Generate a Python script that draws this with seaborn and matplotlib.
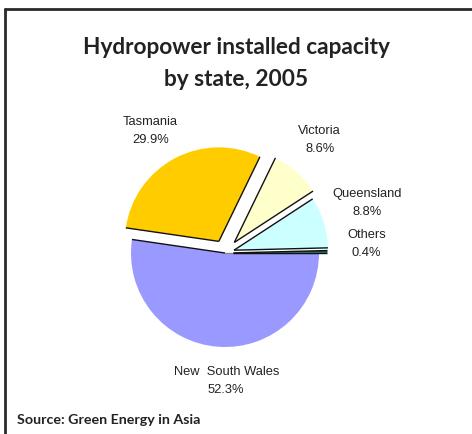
import numpy as np
import matplotlib
matplotlib.use('Agg')
from matplotlib import pyplot as plt
from matplotlib.lines import Line2D
import seaborn as sns

sns.set_theme(style='white')

states = ['New South Wales', 'Tasmania', 'Victoria', 'Queensland', 'Others']
shares = [52.3, 29.9, 8.6, 8.8, 0.4]
colors = ['#9999FF', '#FFCC00', '#FFFFCC', '#CCFFFF', '#006666']
explode = [0.0, 0.14, 0.15, 0.1, 0.09]
# label placement: (angle offset in deg, distance in radii)
label_pos = [(4.7, 1.36), (3.5, 1.52), (1.5, 1.57), (2, 1.6), (3, 1.51)]

W, H = 472, 434
fig = plt.figure(figsize=(W / 100, H / 100), dpi=100)

# pie axes: centre near (225, 253) px, radius 94 px
L = 1.6
S = 2 * L * 94
cx, cy = 225, 253
ax = fig.add_axes([(cx - S / 2) / W, (H - cy - S / 2) / H, S / W, S / H])

wedges, _ = ax.pie(shares, colors=colors, explode=explode, startangle=0,
                   counterclock=False, wedgeprops=dict(linewidth=0))
ax.set_xlim(-L, L)
ax.set_ylim(-L, L)
ax.set_aspect('auto')
ax.axis('off')

# outline only the straight (radial) edges of each slice
for i, w in enumerate(wedges):
    x0, y0 = w.center
    for j, th in enumerate((w.theta1, w.theta2)):
        t = np.deg2rad(th)
        col = '#111111'
        if i == 0 and j == 1:
            col = '#888888'
        ax.plot([x0, x0 + w.r * np.cos(t)], [y0, y0 + w.r * np.sin(t)],
                color=col, lw=1.0, solid_capstyle='butt')

for w, name, val, (off, dist) in zip(wedges, states, shares, label_pos):
    mid = np.deg2rad((w.theta1 + w.theta2) / 2 + off)
    lab = name if name != 'New South Wales' else 'New  South Wales'
    ax.text(dist * np.cos(mid), dist * np.sin(mid), '{}\n{:.1f}%'.format(lab, val),
            ha='center', va='center', fontsize=9.3, color='#222222',
            family='Liberation Sans', linespacing=1.65)

fig.text(0.5, 1 - 63.5 / H, 'Hydropower installed capacity\nby state, 2005',
         ha='center', va='center', fontsize=16.3, fontweight='bold',
         family='Lato', color='#222222', linespacing=1.62)
fig.text(17 / W, 1 - 420 / H, 'Source: Green Energy in Asia', ha='left',
         va='center', fontsize=10.3, fontweight='bold', family='Lato',
         color='#222222')

# frame lines (top and left)
fig.add_artist(Line2D([5 / W, 1], [1 - 8.5 / H, 1 - 8.5 / H], color='#2a2a2a', lw=2))
fig.add_artist(Line2D([5.3 / W, 5.3 / W], [0, 1 - 8.5 / H], color='#2a2a2a', lw=2))

fig.savefig('out.png', dpi=100)
